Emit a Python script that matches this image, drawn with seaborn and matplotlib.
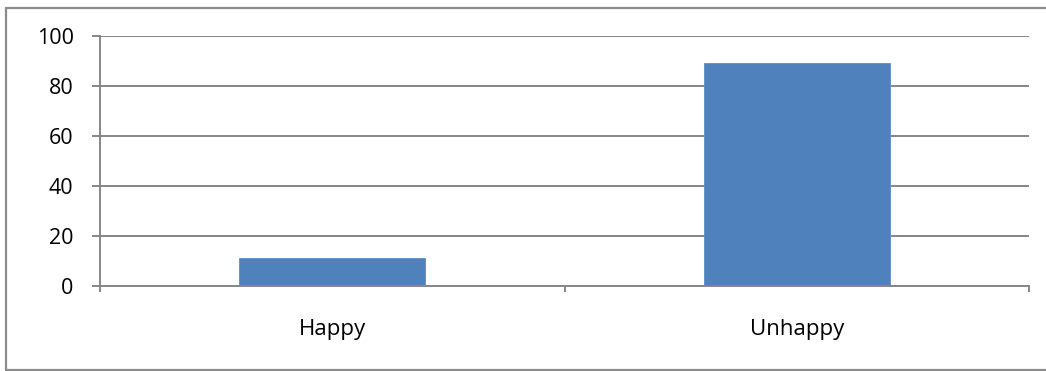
import matplotlib
matplotlib.use("Agg")
import matplotlib.pyplot as plt
from matplotlib.lines import Line2D
import seaborn as sns
import pandas as pd

categories = ["Happy", "Unhappy"]
values = [11, 89]
y_ticks = [0, 20, 40, 60, 80, 100]

sns.set_theme(style="white")
plt.rcParams["font.family"] = ["Open Sans", "DejaVu Sans"]

W, H = 1046, 371
fig = plt.figure(figsize=(W / 100, H / 100), dpi=100)
ax = fig.add_axes([100 / W, (H - 285.5) / H, (1029 - 100) / W, (285.5 - 36) / H])

df = pd.DataFrame({"mood": categories, "value": values})
sns.barplot(data=df, x="mood", y="value", ax=ax, color="#4F81BD",
            width=0.4, saturation=1, edgecolor="#5B8CC6", linewidth=0.6)

grid_color = "#868686"
ax.set_xlim(-0.5, 1.5)
ax.set_ylim(0, 100)
ax.set_yticks(y_ticks)
ax.set_yticklabels([str(t) for t in y_ticks], fontsize=15.5, color="#000000")
ax.yaxis.grid(True, color=grid_color, linewidth=1.4)
ax.set_axisbelow(True)

# Category labels on major ticks, boundary marks on minor ticks
ax.set_xticks([0, 1])
ax.set_xticklabels(categories, fontsize=16, color="#000000")
ax.set_xticks([-0.5, 0.5, 1.5], minor=True)
ax.tick_params(axis="x", which="major", length=0, pad=24)
ax.tick_params(axis="x", which="minor", length=4, width=1.4, color=grid_color,
               bottom=True, direction="out")
ax.tick_params(axis="y", which="major", length=6, width=1.4, color=grid_color,
               left=True, direction="out", pad=13)

ax.set_xlabel("")
ax.set_ylabel("")
for side in ("top", "right"):
    ax.spines[side].set_visible(False)
for side in ("left", "bottom"):
    ax.spines[side].set_color(grid_color)
    ax.spines[side].set_linewidth(1.4)

# Chart-area border (left, top and bottom edges)
fx0, fy_top, fy_bot = 6 / W, (H - 8) / H, (H - 369.5) / H
border = dict(color="#8C8C8C", linewidth=1.6, transform=fig.transFigure)
fig.add_artist(Line2D([fx0, 1.0], [fy_top, fy_top], **border))
fig.add_artist(Line2D([fx0, 1.0], [fy_bot, fy_bot], **border))
fig.add_artist(Line2D([fx0, fx0], [fy_bot, fy_top], **border))

fig.savefig("out.png", dpi=100)
